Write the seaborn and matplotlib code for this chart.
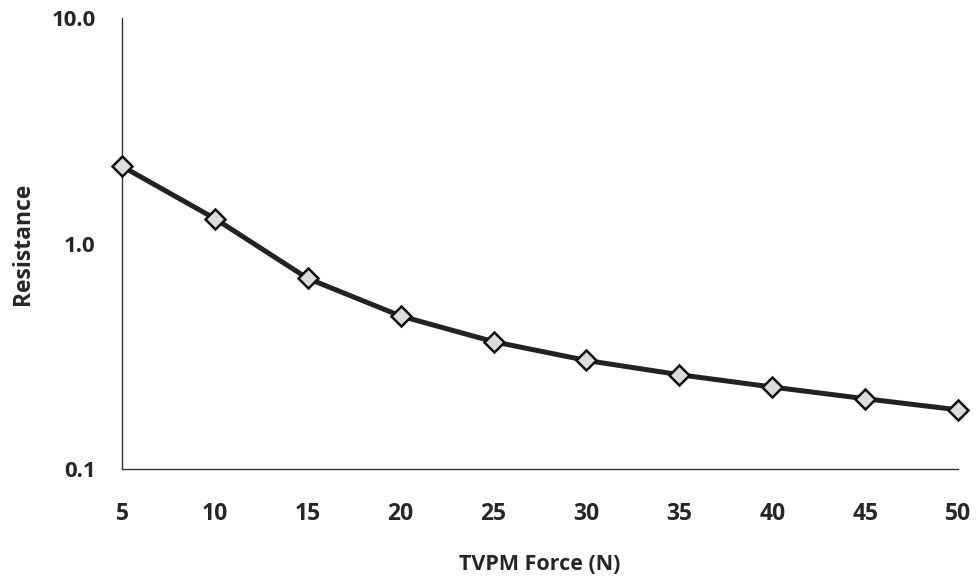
import matplotlib
matplotlib.use("Agg")
import matplotlib.pyplot as plt
import matplotlib.ticker as mticker
import pandas as pd
import seaborn as sns

# values
force = [5, 10, 15, 20, 25, 30, 35, 40, 45, 50]
resistance = [2.2, 1.29, 0.70, 0.477, 0.367, 0.303, 0.262, 0.231, 0.205, 0.183]
y_ticks = [0.1, 1.0, 10.0]
x_label = "TVPM Force (N)"
y_label = "Resistance"

df = pd.DataFrame({"force": force, "resistance": resistance})

sns.set_style("white")
plt.rcParams["font.family"] = ["Open Sans", "DejaVu Sans"]
plt.rcParams["font.weight"] = "bold"

fig = plt.figure(figsize=(9.78, 5.83), dpi=100)
ax = fig.add_axes([0.1247, 0.1955, 0.8549, 0.7736])

sns.lineplot(data=df, x="force", y="resistance", ax=ax, color="#222222",
             linewidth=3.6, marker="D", markersize=10,
             markerfacecolor="#dcdcdc", markeredgecolor="#111111",
             markeredgewidth=1.8, zorder=3, clip_on=False)

ax.set_yscale("log")
ax.set_ylim(0.1, 10)
ax.set_xlim(5, 50)
ax.set_xticks(force)
ax.set_yticks(y_ticks)
ax.yaxis.set_major_formatter(mticker.FuncFormatter(lambda v, p: f"{v:.1f}"))
ax.yaxis.set_minor_locator(mticker.NullLocator())

for s in ["top", "right"]:
    ax.spines[s].set_visible(False)
for s in ["left", "bottom"]:
    ax.spines[s].set_color("#333333")
    ax.spines[s].set_linewidth(1.0)

ax.tick_params(axis="x", direction="out", length=4, width=1, color="#333333",
               pad=20, labelsize=16.5)
ax.tick_params(axis="y", direction="out", length=4, width=1, color="#333333",
               pad=15, labelsize=16)
for lab in ax.get_xticklabels() + ax.get_yticklabels():
    lab.set_fontweight("bold")

ax.set_xlabel(x_label, fontsize=15.5, fontweight="bold", labelpad=20)
ax.set_ylabel(y_label, fontsize=16.5, fontweight="bold", labelpad=12)

fig.savefig("out.png", dpi=100, facecolor="white")
